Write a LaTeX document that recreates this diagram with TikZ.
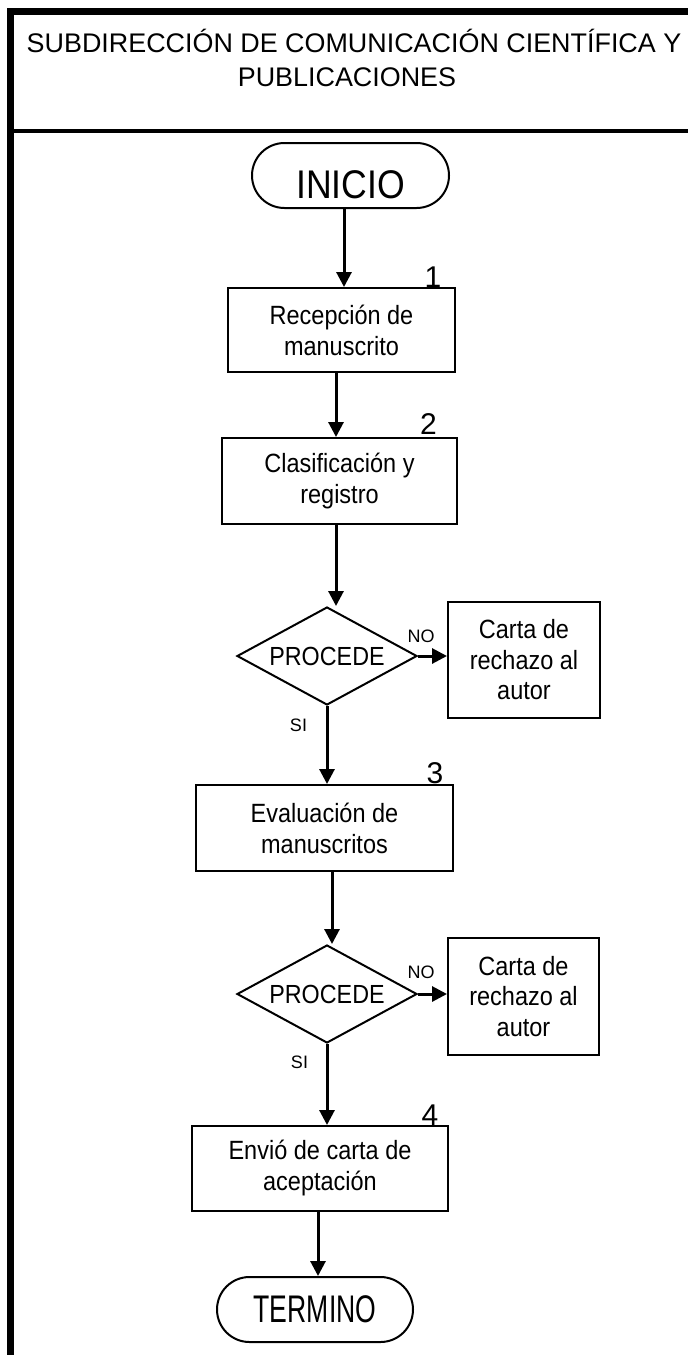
\documentclass[tikz,border=0pt]{standalone}
\usepackage{fontspec}
\setmainfont{Liberation Sans}
\newfontfamily\fa{Liberation Sans}[FakeStretch=0.89]
\newfontfamily\fb{Liberation Sans}[FakeStretch=0.69]
\usetikzlibrary{arrows.meta,shapes.geometric,shapes.misc}
\begin{document}
\begin{tikzpicture}[x=1pt,y=-1pt,
  box/.style={draw,line width=2pt,rectangle,inner sep=0pt,align=center,
    font=\fa\fontsize{26.4}{31}\selectfont},
  term/.style={draw,line width=2pt,rounded rectangle,inner sep=0pt},
  dec/.style={draw,line width=2pt,diamond,inner sep=0pt,aspect=1.84,
    minimum width=180pt,minimum height=98pt,font=\fa\fontsize{26.2}{30}\selectfont},
  arr/.style={line width=3pt,-{Triangle[width=15pt,length=15pt]}},
  num/.style={font=\fontsize{30}{30}\selectfont,anchor=base,inner sep=0pt},
  yn/.style={font=\fontsize{18}{18}\selectfont,inner sep=0pt},
  hdr/.style={font=\fontsize{26.9}{33}\selectfont,anchor=base,inner sep=0pt},
]
\useasboundingbox (0,0) rectangle (688,1355);

% frame
\draw[line width=6.5pt] (688,11.5) -- (10.5,11.5) -- (10.5,1355);
\draw[line width=4pt] (10.5,130.5) -- (688,130.5);

% header
\node[hdr] (h1) at (354,52) {SUBDIRECCIÓN DE COMUNICACIÓN CIENTÍFICA Y};
\node[hdr] (h2) at (347,86) {PUBLICACIONES};

% nodes
\node[term,minimum width=197pt,minimum height=65pt,
  font=\fa\fontsize{40}{40}\selectfont,text height=45pt,text depth=0pt]
  (inicio) at (350.5,175.5) {INICIO\hspace{13pt}};
\node[box,minimum width=227pt,minimum height=84pt] (box1) at (341.5,330)
  {Recepción de\\manuscrito};
\node[box,minimum width=235pt,minimum height=86pt] (box2) at (339.5,481)
  {Clasificación y\\registro};
\node[dec] (dia1) at (327,656) {PROCEDE};
\node[box,minimum width=152pt,minimum height=116pt,
  font=\fa\fontsize{26.4}{30.5}\selectfont] (rect1) at (524,660)
  {Carta de\\rechazo al\\autor};
\node[box,minimum width=257pt,minimum height=86pt] (box3) at (324.5,828)
  {Evaluación de\\manuscritos};
\node[dec] (dia2) at (327,994) {PROCEDE};
\node[box,minimum width=151pt,minimum height=117pt,
  font=\fa\fontsize{26.4}{30.5}\selectfont] (rect2) at (523.5,996.5)
  {Carta de\\rechazo al\\autor};
\node[box,minimum width=256pt,minimum height=85pt] (box4) at (320,1168.5)
  {Envió de carta de\\aceptación};
\node[term,minimum width=196pt,minimum height=65pt,
  font=\fb\fontsize{38.5}{38.5}\selectfont] (termino) at (315,1309.5) {TERMINO};

% step numbers
\node[num] (n1) at (433,287) {1};
\node[num] (n2) at (428.5,434) {2};
\node[num] (n3) at (435,783) {3};
\node[num] (n4) at (430,1125) {4};

% decision labels
\node[yn] (no1) at (421,636) {NO};
\node[yn] (si1) at (298.5,725) {SI};
\node[yn] (no2) at (421,972) {NO};
\node[yn] (si2) at (299.5,1062) {SI};

% connector x positions
\coordinate (xa) at (344,0);
\coordinate (xb) at (336,0);
\coordinate (xc) at (327,0);
\coordinate (xd) at (332,0);
\coordinate (xe) at (318,0);

% connectors
\draw[arr] (inicio.south -| xa) -- (box1.north -| xa);
\draw[arr] (box1.south -| xb) -- (box2.north -| xb);
\draw[arr] (box2.south -| xb) -- (dia1.north -| xb);
\draw[arr] (dia1.east) -- (dia1.east -| rect1.west);
\draw[arr] (dia1.south) -- (box3.north -| xc);
\draw[arr] (box3.south -| xd) -- (dia2.north -| xd);
\draw[arr] (dia2.east) -- (dia2.east -| rect2.west);
\draw[arr] (dia2.south) -- (box4.north -| xc);
\draw[arr] (box4.south -| xe) -- (termino.north -| xe);
\end{tikzpicture}
\end{document}
